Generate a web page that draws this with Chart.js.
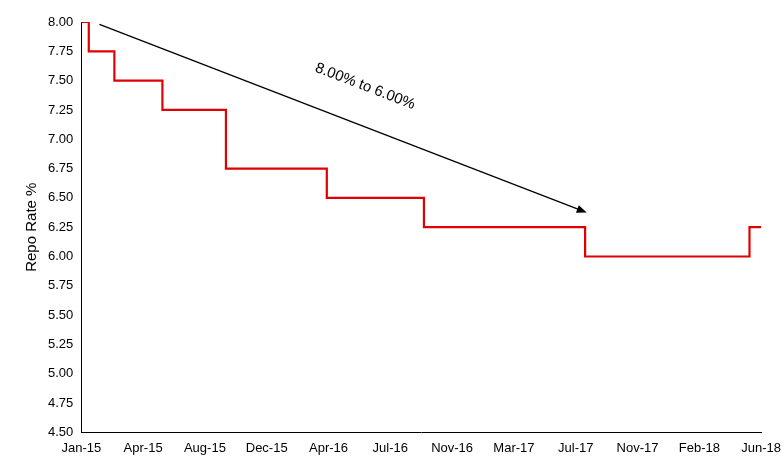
<!DOCTYPE html>
<html><head><meta charset="utf-8">
<script src="https://cdn.jsdelivr.net/npm/chart.js@4/dist/chart.umd.min.js"></script>
<style>html,body{margin:0;padding:0;background:#fff}#w{width:784px;height:469px}</style>
</head><body><div id="w"><canvas id="c"></canvas></div>
<script>
// days since 1 Jan 2015
const changeDays = [0, 14, 62, 152, 271, 460, 642, 944, 1252, 1274];
const repoRates = [8.00, 7.75, 7.50, 7.25, 6.75, 6.50, 6.25, 6.00, 6.25, 6.25];
const tickLabels = ['Jan-15','Apr-15','Aug-15','Dec-15','Apr-16','Jul-16','Nov-16','Mar-17','Jul-17','Nov-17','Feb-18','Jun-18'];
const tickStepDays = 115.8;
const arrowFrom = {x: 34, y: 7.98};
const arrowTo = {x: 947, y: 6.375};
const arrowText = '8.00% to 6.00%';

const FONT = "'Liberation Sans', Arial, sans-serif";
const arrowPlugin = {
  id: 'arrow',
  afterDatasetsDraw(chart) {
    const {ctx, scales: {x, y}} = chart;
    const x1 = x.getPixelForValue(arrowFrom.x), y1 = y.getPixelForValue(arrowFrom.y);
    const x2 = x.getPixelForValue(arrowTo.x), y2 = y.getPixelForValue(arrowTo.y);
    const a = Math.atan2(y2 - y1, x2 - x1);
    ctx.save();
    ctx.strokeStyle = '#000'; ctx.fillStyle = '#000'; ctx.lineWidth = 1.3;
    ctx.beginPath(); ctx.moveTo(x1, y1); ctx.lineTo(x2 - 8*Math.cos(a), y2 - 8*Math.sin(a)); ctx.stroke();
    ctx.beginPath(); ctx.moveTo(x2, y2);
    ctx.lineTo(x2 - 10*Math.cos(a) + 4*Math.sin(a), y2 - 10*Math.sin(a) - 4*Math.cos(a));
    ctx.lineTo(x2 - 10*Math.cos(a) - 4*Math.sin(a), y2 - 10*Math.sin(a) + 4*Math.cos(a));
    ctx.closePath(); ctx.fill();
    const mx = (x1 + x2) / 2 + 22, my = (y1 + y2) / 2 - 32;
    ctx.translate(mx, my); ctx.rotate(a);
    ctx.font = '15px ' + FONT; ctx.textAlign = 'center'; ctx.textBaseline = 'middle';
    ctx.fillText(arrowText, 0, 0);
    ctx.restore();
  }
};

new Chart(document.getElementById('c'), {
  type: 'line',
  data: { datasets: [{
    data: changeDays.map((d, i) => ({x: d, y: repoRates[i]})),
    stepped: true, borderColor: '#e00000', borderWidth: 2.2, pointRadius: 0, fill: false
  }]},
  options: {
    responsive: true, maintainAspectRatio: false, animation: false,
    layout: {padding: {top: 22, right: 20, left: 19, bottom: 10}},
    plugins: {legend: {display: false}, tooltip: {enabled: false}},
    scales: {
      x: {
        type: 'linear', min: 0, max: tickStepDays * 11,
        afterBuildTicks(s) { s.ticks = tickLabels.map((_, i) => ({value: i * tickStepDays})); },
        ticks: {autoSkip: false, maxRotation: 0, color: '#000', font: {family: FONT, size: 13},
          callback: (v, i) => tickLabels[i]},
        grid: {display: false, drawTicks: true, tickLength: 5, color: '#000'},
        border: {color: '#000', width: 1}
      },
      y: {
        min: 4.5, max: 8, 
        ticks: {stepSize: 0.25, color: '#000', font: {family: FONT, size: 13}, callback: v => v.toFixed(2)},
        grid: {display: false, tickLength: 5},
        border: {color: '#000', width: 1},
        title: {display: true, text: 'Repo Rate %', color: '#000', font: {family: FONT, size: 15}}
      }
    }
  },
  plugins: [arrowPlugin]
});
</script></body></html>
